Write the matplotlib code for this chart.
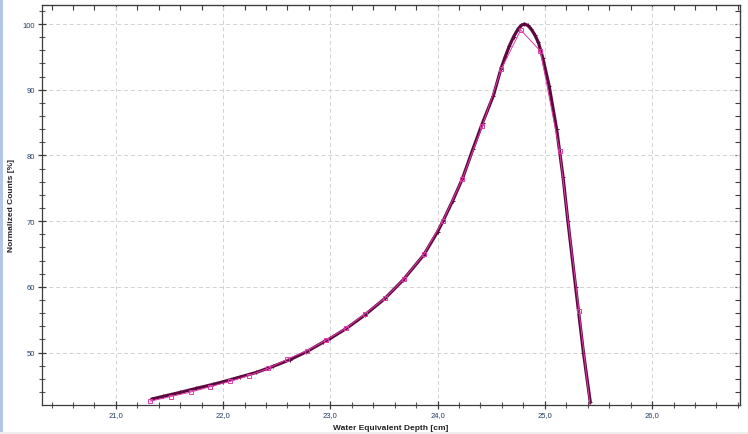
import matplotlib
matplotlib.use("Agg")
import matplotlib.pyplot as plt
from matplotlib.patches import Rectangle
from matplotlib.ticker import MultipleLocator, FixedLocator, FixedFormatter, NullFormatter

# ---------------- data ----------------
# dense measured curve (dark, '+' markers)
depth_dark = [21.333, 21.44, 21.6, 21.75, 21.907, 22.0, 22.156, 22.31, 22.466, 22.62,
              22.777, 22.93, 23.0, 23.15, 23.32, 23.51, 23.68, 23.87, 24.0, 24.05,
              24.14, 24.23, 24.33, 24.42, 24.52, 24.59, 24.63, 24.67, 24.71, 24.75,
              24.78, 24.81, 24.84, 24.87, 24.905, 24.94, 24.98, 25.04, 25.11, 25.17,
              25.215, 25.287, 25.36, 25.424]
counts_dark = [42.92, 43.33, 43.94, 44.55, 45.16, 45.56, 46.27, 46.98, 47.9, 48.9,
               50.12, 51.55, 52.16, 53.68, 55.7, 58.25, 61.08, 64.84, 68.4, 70.0,
               73.1, 76.4, 81.0, 85.0, 89.1, 93.15, 95.0, 96.7, 98.1, 99.24,
               99.8, 100.0, 99.8, 99.3, 98.4, 97.2, 94.9, 90.6, 84.0, 76.7,
               70.0, 60.0, 50.0, 42.4]

# coarse curve (magenta, square markers)
depth_mag = [21.32, 21.51, 21.70, 21.88, 22.06, 22.24, 22.42, 22.60, 22.78, 22.96,
             23.143, 23.32, 23.507, 23.684, 23.873, 24.05, 24.23, 24.417, 24.594,
             24.775, 24.958, 25.138, 25.318, 25.50]
counts_mag = [42.6, 43.3, 44.0, 44.8, 45.6, 46.5, 47.6, 49.0, 50.27, 51.9,
              53.68, 55.86, 58.25, 61.2, 64.99, 70.1, 76.4, 84.5, 93.15,
              99.1, 95.9, 80.7, 56.4, 31.0]

x_ticks = [21.0, 22.0, 23.0, 24.0, 25.0, 26.0]
x_tick_labels = ["21,0", "22,0", "23,0", "24,0", "25,0", "26,0"]
y_ticks = [50, 60, 70, 80, 90, 100]
y_tick_labels = ["50", "60", "70", "80", "90", "100"]

x_label = "Water Equivalent Depth [cm]"
y_label = "Normalized Counts [%]"

# ---------------- figure ----------------
plt.rcParams['font.family'] = ['Liberation Sans', 'DejaVu Sans']
W, H = 748, 435
fig = plt.figure(figsize=(W / 100, H / 100), dpi=100)
fig.patch.set_facecolor('white')

# window decorations: left blue stripe, bottom grey band
fig.add_artist(Rectangle((0, 0), 2.6 / W, 1, transform=fig.transFigure,
                         facecolor='#b3c7e5', edgecolor='none', zorder=0))
fig.add_artist(Rectangle((0, 0), 1, 2.5 / H, transform=fig.transFigure,
                         facecolor='#eeeeee', edgecolor='none', zorder=0))

left, right, top, bottom = 41.7, 740.0, 6.0, 405.6
ax = fig.add_axes([left / W, (H - bottom) / H, (right - left) / W, (bottom - top) / H])

dark = '#5c0a3e'
mag = '#e03aaa'

ax.plot(depth_dark, counts_dark, color=dark, lw=2.3, marker='+', ms=3.2, mew=0.7,
        zorder=3, solid_joinstyle='round', solid_capstyle='round')
ax.plot(depth_mag, counts_mag, color=mag, lw=0.7, marker='s', ms=3.2, mfc='none',
        mec=mag, mew=0.7, zorder=4)

ax.set_xlim(20.308, 26.82)
ax.set_ylim(42.08, 102.9)

spine_c = '#3c3c3c'
for s in ax.spines.values():
    s.set_color(spine_c)
    s.set_linewidth(0.9)

ax.xaxis.set_major_locator(FixedLocator(x_ticks))
ax.xaxis.set_major_formatter(FixedFormatter(x_tick_labels))
ax.xaxis.set_minor_locator(MultipleLocator(0.2))
ax.yaxis.set_major_locator(FixedLocator(y_ticks))
ax.yaxis.set_major_formatter(FixedFormatter(y_tick_labels))
ax.yaxis.set_minor_locator(MultipleLocator(2))

lab_c = '#1f3b63'
ax.tick_params(axis='both', which='major', direction='inout', length=6, width=0.9,
               color=spine_c, labelsize=5.5, labelcolor=lab_c, pad=2)
ax.tick_params(axis='both', which='minor', direction='inout', length=4.5, width=0.8,
               color='#555555')

ax.grid(True, which='major', color='#d2d2d2', lw=0.7, ls=(0, (4, 3)))
ax.set_axisbelow(True)

# top and right inward ticks
secx = ax.secondary_xaxis('top')
secx.xaxis.set_major_locator(FixedLocator(x_ticks))
secx.xaxis.set_minor_locator(MultipleLocator(0.2))
secx.xaxis.set_major_formatter(NullFormatter())
secx.tick_params(which='both', direction='in', length=3.5, width=0.8, color=spine_c)
secx.spines['top'].set_color(spine_c)

secy = ax.secondary_yaxis('right')
secy.yaxis.set_major_locator(FixedLocator(y_ticks))
secy.yaxis.set_minor_locator(MultipleLocator(2))
secy.yaxis.set_major_formatter(NullFormatter())
secy.tick_params(which='both', direction='in', length=3.5, width=0.8, color=spine_c)
secy.spines['right'].set_color(spine_c)

ax.set_xlabel(x_label, fontsize=6, fontweight='bold', color='#222222', labelpad=4)
ax.set_ylabel(y_label, fontsize=6, fontweight='bold', color='#222222', labelpad=5)

fig.savefig('out.png', dpi=100, facecolor='white')
